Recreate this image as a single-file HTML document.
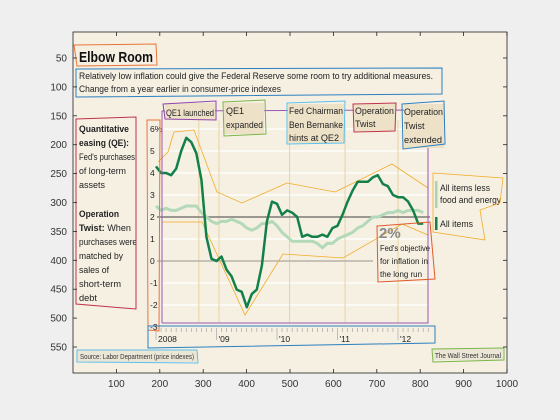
<!DOCTYPE html>
<html><head><meta charset="utf-8"><style>
html,body{margin:0;padding:0;background:#efefef;}
svg{display:block;font-family:"Liberation Sans",sans-serif;}
</style></head><body>
<svg id="c" width="560" height="420" viewBox="0 0 560 420" xmlns="http://www.w3.org/2000/svg">
<rect x="0" y="0" width="560" height="420" fill="#efefef"/>
<rect x="73" y="32" width="434" height="341" fill="#f6f0e3"/>
<g id="inner"></g>
<g id="annot">
<text x="79" y="62" font-size="15" font-weight="bold" fill="#111" textLength="74" lengthAdjust="spacingAndGlyphs">Elbow Room</text>
<polygon points="74,45 156,44 157,65 77,66" fill="none" stroke="#e8743b" stroke-width="1"/>
<text x="79" y="79" font-size="9" fill="#222" textLength="354" lengthAdjust="spacingAndGlyphs">Relatively low inflation could give the Federal Reserve some room to try additional measures.</text>
<text x="79" y="92" font-size="9" fill="#222" textLength="202" lengthAdjust="spacingAndGlyphs">Change from a year earlier in consumer-price indexes</text>
<polygon points="76,69 442,68 442,94 76,97" fill="none" stroke="#2a7fc0" stroke-width="1"/>
<g font-size="9" fill="#222" lengthAdjust="spacingAndGlyphs">
<text x="79" y="132" font-weight="bold" textLength="50" lengthAdjust="spacingAndGlyphs">Quantitative</text>
<text x="79" y="146" font-weight="bold" textLength="50" lengthAdjust="spacingAndGlyphs">easing (QE):</text>
<text x="79" y="160" textLength="56" lengthAdjust="spacingAndGlyphs">Fed's purchases</text>
<text x="79" y="174" textLength="47" lengthAdjust="spacingAndGlyphs">of long-term</text>
<text x="79" y="188" textLength="26" lengthAdjust="spacingAndGlyphs">assets</text>
<text x="79" y="217" font-weight="bold" textLength="40" lengthAdjust="spacingAndGlyphs">Operation</text>
<text x="79" y="231" textLength="52" lengthAdjust="spacingAndGlyphs"><tspan font-weight="bold">Twist:</tspan> When</text>
<text x="79" y="245" textLength="58" lengthAdjust="spacingAndGlyphs">purchases were</text>
<text x="79" y="259" textLength="44" lengthAdjust="spacingAndGlyphs">matched by</text>
<text x="79" y="273" textLength="30" lengthAdjust="spacingAndGlyphs">sales of</text>
<text x="79" y="287" textLength="42" lengthAdjust="spacingAndGlyphs">short-term</text>
<text x="79" y="301" textLength="18" lengthAdjust="spacingAndGlyphs">debt</text>
</g>
<polygon points="76,119 136,117 136,309 76,304" fill="none" stroke="#c0334a" stroke-width="1"/>
<polygon points="147,120 160,120 159,331 148,330" fill="none" stroke="#e8743b" stroke-width="1"/>
<polygon points="148,326 435,326 435,343 148,348" fill="none" stroke="#2a7fc0" stroke-width="1"/>
<rect x="165" y="103" width="50" height="17" fill="#ede2c8"/>
<text x="166" y="116" font-size="9" fill="#222" textLength="48" lengthAdjust="spacingAndGlyphs">QE1 launched</text>
<polygon points="163,104 216,101 216,120 165,119" fill="none" stroke="#8e44ad" stroke-width="1"/>
<rect x="224" y="103" width="40" height="31" fill="#ede2c8"/>
<text x="226" y="114" font-size="9" fill="#222">QE1</text>
<text x="226" y="128" font-size="9" fill="#222" textLength="37" lengthAdjust="spacingAndGlyphs">expanded</text>
<polygon points="223,102 265,100 266,134 224,136" fill="none" stroke="#7ab648" stroke-width="1"/>
<rect x="288" y="104" width="56" height="39" fill="#ede2c8"/>
<g font-size="9" fill="#222">
<text x="289" y="114" textLength="54" lengthAdjust="spacingAndGlyphs">Fed Chairman</text>
<text x="289" y="128" textLength="54" lengthAdjust="spacingAndGlyphs">Ben Bernanke</text>
<text x="289" y="141" textLength="50" lengthAdjust="spacingAndGlyphs">hints at QE2</text></g>
<polygon points="287,103 345,101 344,143 287,144" fill="none" stroke="#5bc0eb" stroke-width="1"/>
<rect x="354" y="104" width="42" height="27" fill="#ede2c8"/>
<text x="355" y="114" font-size="9" fill="#222" textLength="39" lengthAdjust="spacingAndGlyphs">Operation</text>
<text x="355" y="127" font-size="9" fill="#222">Twist</text>
<polygon points="353,104 396,103 395,131 354,132" fill="none" stroke="#c0334a" stroke-width="1"/>
<rect x="404" y="104" width="40" height="44" fill="#ede2c8"/>
<g font-size="9" fill="#222">
<text x="404" y="115" textLength="39" lengthAdjust="spacingAndGlyphs">Operation</text>
<text x="404" y="129">Twist</text>
<text x="404" y="143" textLength="38" lengthAdjust="spacingAndGlyphs">extended</text></g>
<polygon points="402,104 444,101 445,144 403,149" fill="none" stroke="#2a7fc0" stroke-width="1"/>
<text x="379" y="238" font-size="15" font-weight="bold" fill="#8a8a8a">2%</text>
<g font-size="8.5" fill="#222">
<text x="380" y="251" textLength="50" lengthAdjust="spacingAndGlyphs">Fed's objective</text>
<text x="380" y="264" textLength="48" lengthAdjust="spacingAndGlyphs">for inflation in</text>
<text x="380" y="277" textLength="42" lengthAdjust="spacingAndGlyphs">the long run</text></g>
<polygon points="377,226 430,222 435,279 378,282" fill="none" stroke="#e05a2b" stroke-width="1"/>
<rect x="435" y="181" width="2.5" height="27" fill="#a8d5b0"/>
<text x="440" y="191" font-size="9" fill="#222" textLength="50" lengthAdjust="spacingAndGlyphs">All items less</text>
<text x="440" y="203" font-size="9" fill="#222" textLength="61" lengthAdjust="spacingAndGlyphs">food and energy</text>
<rect x="435" y="217" width="2.5" height="13" fill="#13804a"/>
<text x="440" y="227" font-size="9" fill="#222" textLength="33" lengthAdjust="spacingAndGlyphs">All items</text>
<polygon points="433,173 503,178 500,203 480,210 485,240 433,232" fill="none" stroke="#f0ac2a" stroke-width="0.8"/>
<rect x="77" y="350" width="120" height="12" fill="#ece6d6"/>
<text x="80" y="359" font-size="7" fill="#333" textLength="114" lengthAdjust="spacingAndGlyphs">Source: Labor Department (price indexes)</text>
<polygon points="77,350 197,350 198,363 77,362" fill="none" stroke="#5bc0eb" stroke-width="1"/>
<rect x="433" y="349" width="70" height="11" fill="#ece6d6"/>
<text x="435" y="358" font-size="7" fill="#333" textLength="66" lengthAdjust="spacingAndGlyphs">The Wall Street Journal</text>
<polygon points="432,349 504,348 504,360 433,362" fill="none" stroke="#7ab648" stroke-width="1"/>
</g>
<g id="axes"></g>
</svg>
<script>
// chart data: year-over-year CPI change (%), monthly from Jan 2008
const allItems = [4.3,4.0,4.0,3.9,4.2,5.0,5.6,5.4,4.9,3.7,1.1,0.1,
  0.0,0.2,-0.4,-0.7,-1.3,-1.4,-2.1,-1.5,-1.3,-0.2,1.8,2.7,
  2.6,2.1,2.3,2.2,2.0,1.1,1.2,1.1,1.1,1.2,1.1,1.5,
  1.6,2.1,2.7,3.2,3.6,3.6,3.6,3.8,3.9,3.5,3.4,3.0,
  2.9,2.9,2.7,2.3,1.7,1.7];
const coreItems = [2.5,2.3,2.4,2.3,2.3,2.4,2.5,2.5,2.5,2.2,2.0,1.8,
  1.7,1.8,1.8,1.9,1.8,1.7,1.5,1.4,1.5,1.7,1.7,1.8,
  1.6,1.3,1.1,0.9,0.9,0.9,0.9,0.9,0.8,0.6,0.8,0.8,
  1.0,1.1,1.2,1.3,1.5,1.6,1.8,2.0,2.0,2.1,2.2,2.2,
  2.3,2.2,2.3,2.3,2.3,2.2];
const yTicks = [6,5,4,3,2,1,0,-1,-2,-3];
const yearLabels = ['2008',"'09","'10","'11","'12"];
const eventMonths = [8.5,12.5,26.5,37.5,48];
const outerXTicks = [100,200,300,400,500,600,700,800,900,1000];
const outerYTicks = [50,100,150,200,250,300,350,400,450,500,550];

const NS='http://www.w3.org/2000/svg';
function mk(p,t,a){const e=document.createElementNS(NS,t);for(const k in a)e.setAttribute(k,a[k]);p.appendChild(e);return e;}
const xm = m => 156 + m*60.5/12;
const yv = v => 261 - v*22;
const inner=document.getElementById('inner');

yTicks.forEach(v=>{
  if(v!==0&&v!==2&&v!==-3){const g=mk(inner,'line',{x1:162,x2:428,y1:yv(v),y2:yv(v),stroke:'#ffffff','stroke-width':1.2});
  
  }
  const t=mk(inner,'text',{x:150,y:yv(v)+3,'font-size':8.5,fill:'#222'});
  t.textContent = v===6?'6%':String(v);
  
  
});
eventMonths.forEach(m=>{
  const l=mk(inner,'line',{x1:xm(m),x2:xm(m),y1:120,y2:323,stroke:'#e6d4a0','stroke-width':1});
  
  
});
let z=mk(inner,'line',{x1:157,x2:373,y1:yv(0),y2:yv(0),stroke:'#b5b2aa','stroke-width':1.5});


let t2=mk(inner,'line',{x1:157,x2:430,y1:yv(2),y2:yv(2),stroke:'#7d7b77','stroke-width':1.5});


for(let m=0;m<=54;m++){
  const big=m%12===0;
  const tk=mk(inner,'line',{x1:xm(m),x2:xm(m),y1:328,y2:big?340:332,stroke:'#999','stroke-width':0.6});
  
  
}
yearLabels.forEach((s,i)=>{
  const t=mk(inner,'text',{x:xm(i*12)+2,y:342,'font-size':8.5,fill:'#222'});
  t.textContent=s;
  
  
});
[[ [158,162],[168,152],[174,132],[194,130],[217,192],[242,203],[287,183],[335,192],[392,164],[428,188] ],
 [ [162,222],[202,222],[245,315],[283,254],[343,258],[402,224],[428,235] ]].forEach(pts=>{
  const p=mk(inner,'polyline',{points:pts.map(q=>q.join(',')).join(' '),fill:'none',stroke:'#f0ac2a','stroke-width':0.8});
  
  
});
const pathOf=arr=>arr.map((v,i)=>(i?'L':'M')+xm(i).toFixed(1)+','+yv(v).toFixed(1)).join('');
const core=mk(inner,'path',{d:pathOf(coreItems),fill:'none',stroke:'#b3d9b8','stroke-width':3,'stroke-linejoin':'round'});


const all=mk(inner,'path',{d:pathOf(allItems),fill:'none',stroke:'#13804a','stroke-width':2.5,'stroke-linejoin':'round'});


const pr=mk(inner,'polyline',{points:'162,323 162,111 428,110 428,323 162,323',fill:'none',stroke:'#9b59b6','stroke-width':1});



const ax=document.getElementById('axes');
const ox=v=>73+v*0.434, oy=v=>58+(v-50)*0.578;
const fr=mk(ax,'rect',{x:73,y:32,width:434,height:341,fill:'none',stroke:'#222','stroke-width':0.8});


outerXTicks.forEach(v=>{
  mk(ax,'line',{x1:ox(v),x2:ox(v),y1:373,y2:369,stroke:'#222','stroke-width':0.8});
  mk(ax,'line',{x1:ox(v),x2:ox(v),y1:32,y2:36,stroke:'#222','stroke-width':0.8});
  const t=mk(ax,'text',{x:ox(v),y:387,'font-size':10,fill:'#333','text-anchor':'middle'});
  t.textContent=v;
  
  
});
outerYTicks.forEach(v=>{
  mk(ax,'line',{x1:73,x2:77,y1:oy(v),y2:oy(v),stroke:'#222','stroke-width':0.8});
  mk(ax,'line',{x1:507,x2:503,y1:oy(v),y2:oy(v),stroke:'#222','stroke-width':0.8});
  const t=mk(ax,'text',{x:67,y:oy(v)+3.5,'font-size':10,fill:'#333','text-anchor':'end'});
  t.textContent=v;
  
  
});
</script>
</body></html>
